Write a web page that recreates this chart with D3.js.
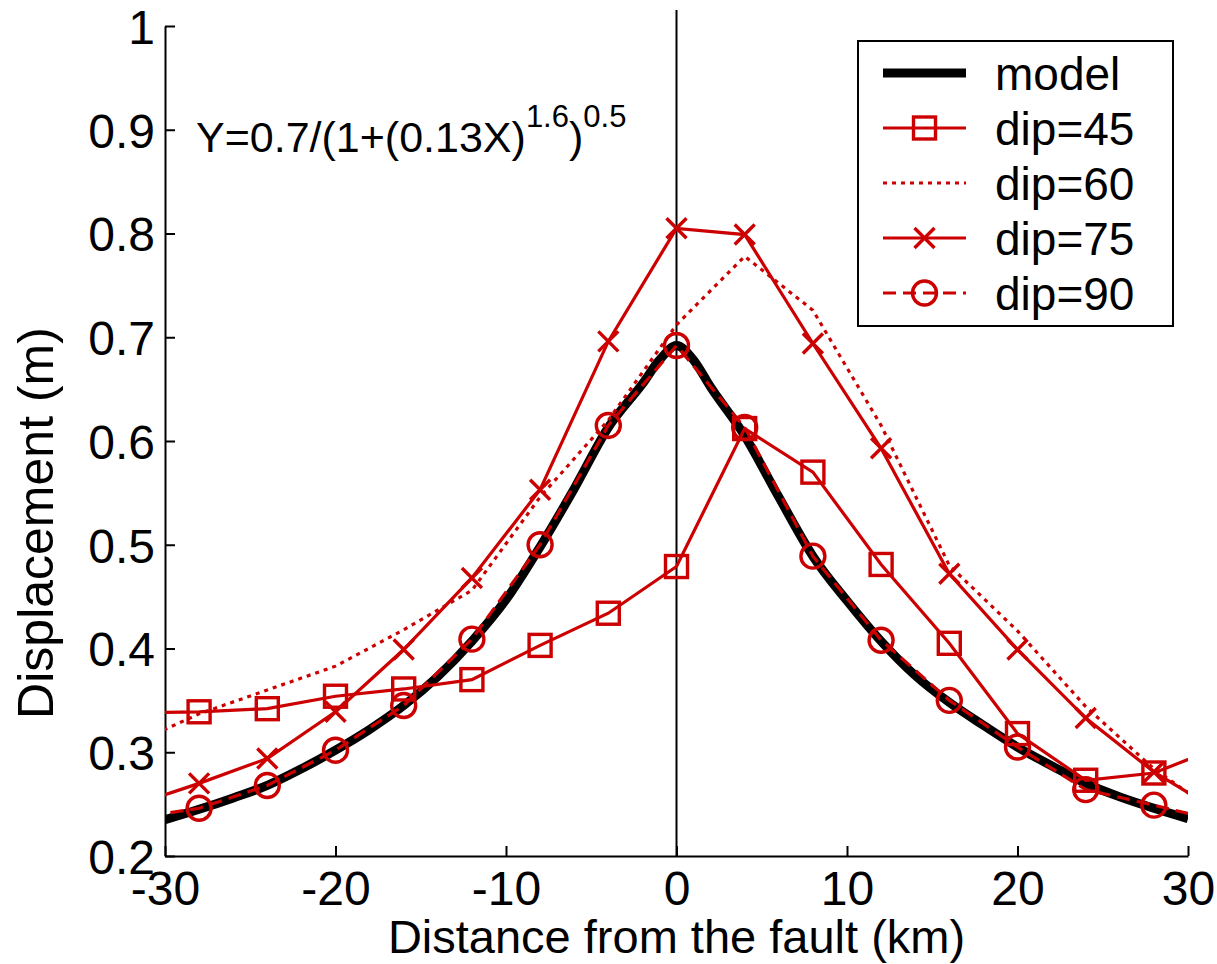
<!DOCTYPE html>
<html>
<head>
<meta charset="utf-8">
<script src="https://cdn.jsdelivr.net/npm/d3@7"></script>
<style>
  body { margin: 0; background: #fff; }
  text { font-family: "Liberation Sans", Arial, sans-serif; fill: #000; }
</style>
</head>
<body>
<div id="chart"></div>
<script>
// distances (km) where the dip series were sampled, every 4 km
var distances = [-32, -28, -24, -20, -16, -12, -8, -4, 0, 4, 8, 12, 16, 20, 24, 28, 32];

var dip45 = [0.338, 0.339, 0.342, 0.354, 0.361, 0.370, 0.403, 0.434, 0.479, 0.612, 0.570, 0.481, 0.405, 0.318, 0.273, 0.280, 0.306];
var dip60 = [0.307, 0.337, 0.360, 0.383, 0.418, 0.456, 0.546, 0.620, 0.712, 0.778, 0.726, 0.615, 0.480, 0.417, 0.344, 0.284, 0.238];
var dip75 = [0.248, 0.270, 0.294, 0.339, 0.399, 0.468, 0.553, 0.696, 0.805, 0.799, 0.694, 0.593, 0.472, 0.399, 0.333, 0.281, 0.241];
var dip90 = [0.236, 0.246, 0.268, 0.302, 0.345, 0.409, 0.500, 0.615, 0.692, 0.613, 0.489, 0.408, 0.350, 0.305, 0.264, 0.249, 0.233];

// model curve
var modelX = [-30, -28, -26, -24, -22, -20, -18, -16, -14, -12, -10, -8, -6, -4, -2, -1, 0, 1, 2, 4, 6, 8, 10, 12, 14, 16, 18, 20, 22, 24, 26, 28, 30];
var modelY = [0.235, 0.245, 0.256, 0.268, 0.284, 0.302, 0.322, 0.345, 0.373, 0.407, 0.447, 0.498, 0.554, 0.613, 0.655, 0.678, 0.692, 0.678, 0.652, 0.605, 0.546, 0.489, 0.446, 0.407, 0.374, 0.348, 0.326, 0.305, 0.287, 0.270, 0.257, 0.246, 0.236];

var xTicks = [-30, -20, -10, 0, 10, 20, 30];
var xTickLabels = ["-30", "-20", "-10", "0", "10", "20", "30"];
var yTicks = [0.2, 0.3, 0.4, 0.5, 0.6, 0.7, 0.8, 0.9, 1];
var yTickLabels = ["0.2", "0.3", "0.4", "0.5", "0.6", "0.7", "0.8", "0.9", "1"];

var seriesNames = ["model", "dip=45", "dip=60", "dip=75", "dip=90"];

(function(){
    var red = "#cc0000";
    var width = 1217, height = 964;
    var plotLeft = 165, plotRight = 1188, plotTop = 26, plotBottom = 856;

    var svg = d3.select("#chart")
        .append("svg")
        .attr("width", width)
        .attr("height", height);

    var x = d3.scaleLinear().domain([-30, 30]).range([plotLeft, plotRight]);
    var y = d3.scaleLinear().domain([0.2, 1]).range([plotBottom, plotTop]);

    svg.append("clipPath")
        .attr("id", "plot-clip")
        .append("rect")
        .attr("x", plotLeft)
        .attr("y", plotTop)
        .attr("width", plotRight - plotLeft)
        .attr("height", plotBottom - plotTop);

    // axes
    var xAxis = d3.axisBottom(x)
        .tickValues(xTicks)
        .tickFormat(function(d, i){ return xTickLabels[i]; })
        .tickSizeInner(-10)
        .tickSizeOuter(0)
        .tickPadding(16);

    var yAxis = d3.axisLeft(y)
        .tickValues(yTicks)
        .tickFormat(function(d, i){ return yTickLabels[i]; })
        .tickSizeInner(-10)
        .tickSizeOuter(0)
        .tickPadding(10);

    var gx = svg.append("g")
        .attr("transform", "translate(0," + plotBottom + ")")
        .call(xAxis);

    var gy = svg.append("g")
        .attr("transform", "translate(" + plotLeft + ",0)")
        .call(yAxis);

    [gx, gy].forEach(function(g){
        g.select(".domain").attr("stroke", "#000").attr("stroke-width", 2);
        g.selectAll(".tick line").attr("stroke", "#000").attr("stroke-width", 2);
        g.selectAll(".tick text")
            .attr("font-size", 48)
            .attr("fill", "#000")
            .style("font-family", "Liberation Sans, Arial, sans-serif");
    });
    gy.selectAll(".tick text").attr("dy", "0.36em");
    gx.selectAll(".tick text").attr("dy", "0.68em");

    // fault line at x = 0
    svg.append("line")
        .attr("x1", x(0))
        .attr("x2", x(0))
        .attr("y1", 10)
        .attr("y2", plotBottom)
        .attr("stroke", "#000")
        .attr("stroke-width", 2);

    var plot = svg.append("g").attr("clip-path", "url(#plot-clip)");

    var modelLine = d3.line()
        .x(function(d){ return x(d[0]); })
        .y(function(d){ return y(d[1]); })
        .curve(d3.curveMonotoneX);

    var dipLine = d3.line()
        .x(function(d){ return x(d[0]); })
        .y(function(d){ return y(d[1]); });

    plot.append("path")
        .datum(d3.zip(modelX, modelY))
        .attr("d", modelLine)
        .attr("fill", "none")
        .attr("stroke", "#000")
        .attr("stroke-width", 9)
        .attr("stroke-linejoin", "round");

    var dips = [
        {values: dip45, dash: null, marker: "square"},
        {values: dip60, dash: "4,5", marker: null},
        {values: dip75, dash: null, marker: "cross"},
        {values: dip90, dash: "13,7", marker: "circle"}
    ];

    dips.forEach(function(s){
        plot.append("path")
            .datum(d3.zip(distances, s.values))
            .attr("d", dipLine)
            .attr("fill", "none")
            .attr("stroke", red)
            .attr("stroke-width", 3.2)
            .attr("stroke-dasharray", s.dash);
    });

    function drawMarker(g, type, cx, cy){
        if(type === "square"){
            g.append("rect")
                .attr("x", cx - 11).attr("y", cy - 11)
                .attr("width", 22).attr("height", 22)
                .attr("fill", "none").attr("stroke", red).attr("stroke-width", 3.4);
        } else if(type === "circle"){
            g.append("circle")
                .attr("cx", cx).attr("cy", cy).attr("r", 12)
                .attr("fill", "none").attr("stroke", red).attr("stroke-width", 3.4);
        } else if(type === "cross"){
            g.append("path")
                .attr("d", "M" + (cx - 10) + "," + (cy - 10) + "L" + (cx + 10) + "," + (cy + 10) +
                           "M" + (cx - 10) + "," + (cy + 10) + "L" + (cx + 10) + "," + (cy - 10))
                .attr("fill", "none").attr("stroke", red).attr("stroke-width", 3.4);
        }
    }

    var markers = svg.append("g");
    dips.forEach(function(s){
        if(!s.marker) return;
        distances.forEach(function(d, i){
            if(d < -30 || d > 30) return;
            drawMarker(markers, s.marker, x(d), y(s.values[i]));
        });
    });

    // equation
    var eq = svg.append("text")
        .attr("x", 196)
        .attr("y", 152)
        .attr("font-size", 43);
    eq.append("tspan").text("Y=0.7/(1+(0.13X)");
    eq.append("tspan").attr("font-size", 31).attr("dy", -25).text("1.6");
    eq.append("tspan").attr("dy", 25).text(")");
    eq.append("tspan").attr("font-size", 31).attr("dy", -25).text("0.5");

    // axis titles
    svg.append("text")
        .attr("x", x(0))
        .attr("y", 953)
        .attr("text-anchor", "middle")
        .attr("font-size", 47)
        .text("Distance from the fault (km)");

    svg.append("text")
        .attr("transform", "translate(53,523) rotate(-90)")
        .attr("text-anchor", "middle")
        .attr("font-size", 50)
        .text("Displacement (m)");

    // legend
    var legend = svg.append("g");
    legend.append("rect")
        .attr("x", 858)
        .attr("y", 41)
        .attr("width", 315)
        .attr("height", 285)
        .attr("fill", "#fff")
        .attr("stroke", "#000")
        .attr("stroke-width", 2);

    var legendStyles = [
        {color: "#000", width: 9, dash: null, marker: null},
        {color: red, width: 3.2, dash: null, marker: "square"},
        {color: red, width: 3.2, dash: "4,5", marker: null},
        {color: red, width: 3.2, dash: null, marker: "cross"},
        {color: red, width: 3.2, dash: "13,7", marker: "circle"}
    ];

    seriesNames.forEach(function(name, i){
        var ly = 73 + i * 55;
        var st = legendStyles[i];
        legend.append("line")
            .attr("x1", 883).attr("x2", 966)
            .attr("y1", ly).attr("y2", ly)
            .attr("stroke", st.color)
            .attr("stroke-width", st.width)
            .attr("stroke-dasharray", st.dash);
        if(st.marker) drawMarker(legend, st.marker, 924.5, ly);
        legend.append("text")
            .attr("x", 995)
            .attr("y", ly)
            .attr("dy", "0.37em")
            .attr("font-size", 46)
            .text(name);
    });
})();
</script>
</body>
</html>
